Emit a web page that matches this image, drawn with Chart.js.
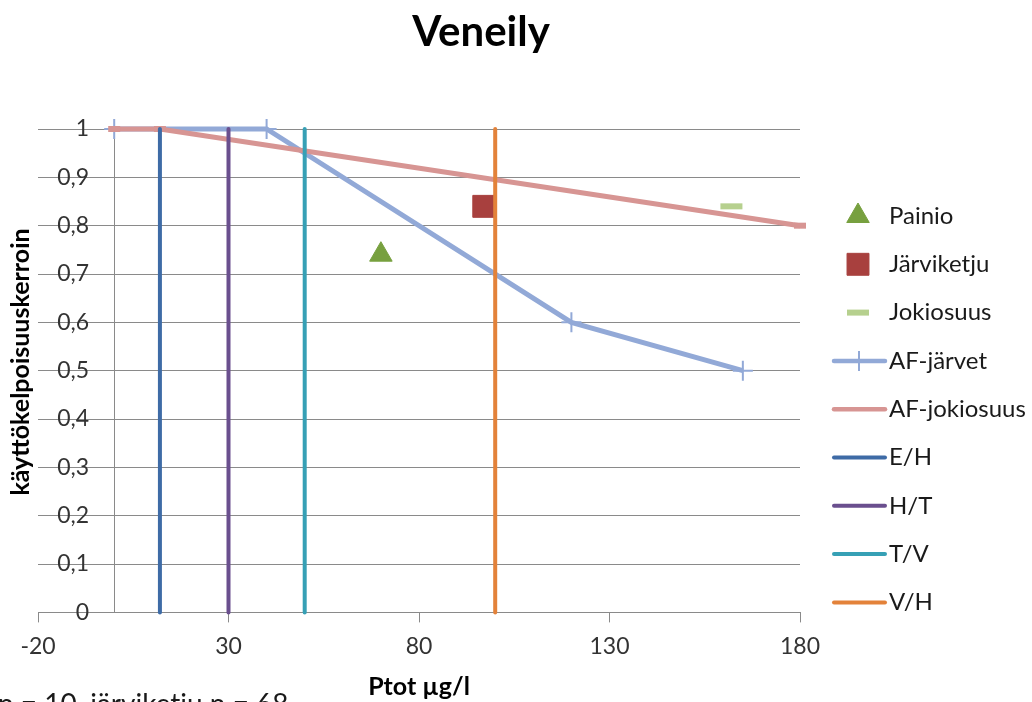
<!DOCTYPE html>
<html>
<head>
<meta charset="utf-8">
<title>Veneily</title>
<script src="https://cdn.jsdelivr.net/npm/chart.js@4.4.1/dist/chart.umd.min.js"></script>
<style>
    html, body { margin: 0; padding: 0; background: #fff; }
    #wrap { position: relative; width: 1032px; height: 702px; }
</style>
</head>
<body>
<div id="wrap"><canvas id="chart"></canvas></div>
<script>
/* ========================================
   Veneily - käyttökelpoisuuskerroin vs. Ptot
   values
   ======================================== */

const xTicks = [-20, 30, 80, 130, 180];
const yTicks = [0, 0.1, 0.2, 0.3, 0.4, 0.5, 0.6, 0.7, 0.8, 0.9, 1];

// observed sites
const painioX = [70];
const painioY = [0.74];
const jarviketjuX = [97];
const jarviketjuY = [0.84];
const jokiosuusX = [162];
const jokiosuusY = [0.84];

// curves
const afJarvetX = [0, 40, 120, 165];
const afJarvetY = [1, 1, 0.6, 0.5];
const afJokiosuusX = [0, 12, 180];
const afJokiosuusY = [1, 1, 0.8];

// class boundaries, drawn as vertical lines from y=0 to y=1
const boundaryLabels = ['E/H', 'H/T', 'T/V', 'V/H'];
const boundaryX = [12, 30, 50, 100];
const boundaryY = [0, 1];
const boundaryColors = ['#3e6ba6', '#6a4f8e', '#36a0b5', '#e3823a'];

const FONT = 'Lato, "Open Sans", sans-serif';
const GRID = '#8a8a8a';

const pts = (xs, ys) => xs.map((x, i) => ({ x, y: ys[i] }));

const datasets = [
    { label: 'Painio', data: pts(painioX, painioY), pointStyle: 'triangle', pointRadius: 13,
      backgroundColor: '#77a03f', borderColor: '#77a03f', pointBorderWidth: 1 },
    { label: 'Järviketju', data: pts(jarviketjuX, jarviketjuY), pointStyle: 'rect', pointRadius: 15.5,
      backgroundColor: '#a8403e', borderColor: '#a8403e', pointBorderWidth: 1 },
    { label: 'Jokiosuus', data: pts(jokiosuusX, jokiosuusY), pointStyle: 'line', pointRadius: 11,
      backgroundColor: '#b6d08e', borderColor: '#b6d08e', pointBorderWidth: 6 },
    { label: 'AF-järvet', data: pts(afJarvetX, afJarvetY), showLine: true, borderWidth: 5,
      borderColor: '#92a9d7', backgroundColor: '#92a9d7',
      pointStyle: 'cross', pointRadius: 10, pointBorderWidth: 2 },
    { label: 'AF-jokiosuus', data: pts(afJokiosuusX, afJokiosuusY), showLine: true, borderWidth: 5,
      borderColor: '#d79593', backgroundColor: '#d79593',
      pointStyle: 'line', pointRadius: 6, pointBorderWidth: 6 }
];
boundaryLabels.forEach((lbl, i) => {
    datasets.push({ label: lbl, data: pts([boundaryX[i], boundaryX[i]], boundaryY), showLine: true,
        borderWidth: 4, borderColor: boundaryColors[i], backgroundColor: boundaryColors[i],
        borderCapStyle: 'round', pointRadius: 0 });
});
// Excel draws later series on top
datasets.forEach((d, i) => { d.order = datasets.length - i; d.clip = false; d.tension = 0; });

function drawMarker(ctx, ds, x, y) {
    const r = ds.pointRadius;
    if (!r) return;
    ctx.fillStyle = ds.backgroundColor;
    ctx.strokeStyle = ds.borderColor;
    ctx.lineWidth = ds.pointBorderWidth || 1;
    ctx.beginPath();
    switch (ds.pointStyle) {
        case 'triangle':
            ctx.moveTo(x, y - r);
            ctx.lineTo(x + r * 0.866, y + r * 0.5);
            ctx.lineTo(x - r * 0.866, y + r * 0.5);
            ctx.closePath(); ctx.fill(); ctx.stroke(); break;
        case 'rect': {
            const s = r * Math.SQRT1_2;
            ctx.rect(x - s, y - s, 2 * s, 2 * s); ctx.fill(); ctx.stroke(); break;
        }
        case 'line':
            ctx.moveTo(x - r, y); ctx.lineTo(x + r, y); ctx.stroke(); break;
        case 'cross':
            ctx.moveTo(x - r, y); ctx.lineTo(x + r, y);
            ctx.moveTo(x, y - r); ctx.lineTo(x, y + r); ctx.stroke(); break;
    }
}

const sideLegend = {
    id: 'sideLegend',
    afterDraw(chart) {
        const ctx = chart.ctx;
        ctx.save();
        chart.data.datasets.forEach((ds, i) => {
            const y = 216 + i * 48.3;
            if (ds.showLine) {
                ctx.strokeStyle = ds.borderColor;
                ctx.lineWidth = Math.min(ds.borderWidth, 4.5);
                ctx.lineCap = 'round';
                ctx.beginPath(); ctx.moveTo(834, y); ctx.lineTo(885, y); ctx.stroke();
                ctx.lineCap = 'butt';
                if (ds.pointStyle === 'cross') drawMarker(ctx, ds, 859, y);
            } else {
                drawMarker(ctx, ds, 858, y);
            }
            ctx.fillStyle = '#1a1a1a';
            ctx.font = '24px ' + FONT;
            ctx.textAlign = 'left';
            ctx.textBaseline = 'middle';
            ctx.fillText(ds.label, 889, y);
        });
        ctx.restore();
    }
};

const chartTexts = {
    id: 'chartTexts',
    afterDraw(chart) {
        const ctx = chart.ctx;
        ctx.save();
        ctx.fillStyle = '#000';
        ctx.textAlign = 'center';
        ctx.textBaseline = 'alphabetic';
        ctx.font = 'bold 42px ' + FONT;
        ctx.fillText('Veneily', 481, 46);

        ctx.textAlign = 'left';
        ctx.font = '28px ' + FONT;
        ctx.fillStyle = '#1a1a1a';
        ctx.fillText('n = 10, järviketju n = 68', -2, 714);

        ctx.translate(21, 362);
        ctx.rotate(-Math.PI / 2);
        ctx.textAlign = 'center';
        ctx.textBaseline = 'middle';
        ctx.fillStyle = '#000';
        ctx.font = 'bold 25px ' + FONT;
        ctx.fillText('käyttökelpoisuuskerroin', 0, 0);
        ctx.restore();
    }
};

const fmt = v => String(Math.round(v * 10) / 10).replace('.', ',');

new Chart(document.getElementById('chart'), {
    type: 'scatter',
    data: { datasets },
    options: {
        responsive: true, maintainAspectRatio: false, animation: false, events: [],
        layout: { padding: { left: 38, right: 232, top: 129, bottom: 0 } },
        plugins: { legend: { display: false }, tooltip: { enabled: false }, title: { display: false } },
        scales: {
            x: {
                type: 'linear', position: 'bottom', min: -20, max: 180,
                afterBuildTicks: s => { s.ticks = xTicks.map(v => ({ value: v })); },
                grid: { drawOnChartArea: false, drawTicks: true, tickLength: 10, color: GRID },
                border: { color: GRID, width: 1 },
                ticks: { padding: 10, color: '#333', font: { family: FONT, size: 23 }, maxRotation: 0 },
                title: { display: true, text: 'Ptot µg/l', color: '#000',
                         font: { family: FONT, size: 25, weight: 'bold' }, padding: { top: 2, bottom: 0 } }
            },
            // value axis: crosses the x axis at 0, carries the grid
            y: {
                type: 'linear', position: { x: 0 }, min: 0, max: 1,
                afterBuildTicks: s => { s.ticks = yTicks.map(v => ({ value: v })); },
                grid: { color: GRID, tickLength: 8 },
                border: { color: GRID, width: 1 },
                ticks: { display: false }
            },
            // label-only copy of the value axis, set a little left of x=0
            yLabels: {
                type: 'linear', position: { x: -6.6 }, min: 0, max: 1,
                afterBuildTicks: s => { s.ticks = yTicks.map(v => ({ value: v })); },
                grid: { display: false },
                border: { display: false },
                ticks: { color: '#333', font: { family: FONT, size: 23 }, callback: fmt }
            }
        }
    },
    plugins: [chartTexts, sideLegend]
});
</script>
</body>
</html>
